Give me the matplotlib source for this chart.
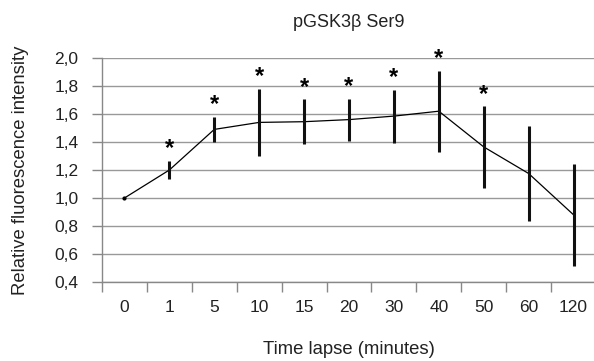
import matplotlib.pyplot as plt
import numpy as np
from matplotlib.ticker import FixedLocator, FuncFormatter

plt.rcParams['font.family'] = ['Liberation Sans', 'DejaVu Sans']

times = ['0', '1', '5', '10', '15', '20', '30', '40', '50', '60', '120']
means = [1.00, 1.20, 1.49, 1.54, 1.545, 1.56, 1.585, 1.62, 1.365, 1.175, 0.88]
errs = [0.0, 0.065, 0.09, 0.24, 0.16, 0.15, 0.19, 0.29, 0.29, 0.34, 0.365]
signif = [False, True, True, True, True, True, True, True, True, False, False]

fig = plt.figure(figsize=(5.94, 3.61), dpi=100)
ax = fig.add_axes([102/594, 1 - 282/361, 494/594, 224/361])

x = np.arange(len(times))
ax.plot(x, means, color='black', lw=0.9, zorder=3)
ax.plot(x[0], means[0], 'o', color='black', ms=2, zorder=3)
ax.errorbar(x, means, yerr=errs, fmt='none', ecolor='#111111', elinewidth=2.2, capsize=0, zorder=4)
for xi, m, e, s in zip(x, means, errs, signif):
    if s:
        ax.text(xi, m + e + 0.005, '*', ha='center', va='bottom', fontsize=17, fontweight='bold')

ax.set_xlim(-0.5, len(times) - 0.5)
ax.set_ylim(0.4, 2.0)
ax.set_yticks(np.arange(0.4, 2.01, 0.2))
ax.yaxis.set_major_formatter(FuncFormatter(lambda v, p: ('%.1f' % v).replace('.', ',')))
ax.grid(axis='y', color='#999999', lw=1)
ax.set_axisbelow(True)

ax.set_xticks(x)
ax.set_xticklabels(times)
ax.xaxis.set_minor_locator(FixedLocator(np.arange(-0.5, len(times) - 0.4, 1)))
ax.tick_params(axis='x', which='major', length=0, pad=13, labelsize=12.5, labelcolor='#222222')
ax.tick_params(axis='x', which='minor', length=7, width=1, color='#888888')
ax.tick_params(axis='y', length=7, width=1, color='#888888', labelsize=12.5, pad=10, labelcolor='#222222')

for s in ['top', 'right']:
    ax.spines[s].set_visible(False)
for s in ['left', 'bottom']:
    ax.spines[s].set_color('#888888')
    ax.spines[s].set_linewidth(1)

ax.set_title('pGSK3\u03b2 Ser9', fontsize=13, pad=22, color='#222222')
ax.set_xlabel('Time lapse (minutes)', fontsize=13.3, labelpad=19, color='#222222')
ax.set_ylabel('Relative fluorescence intensity', fontsize=13.3, labelpad=18, color='#222222')

plt.savefig('out.png', dpi=100)
